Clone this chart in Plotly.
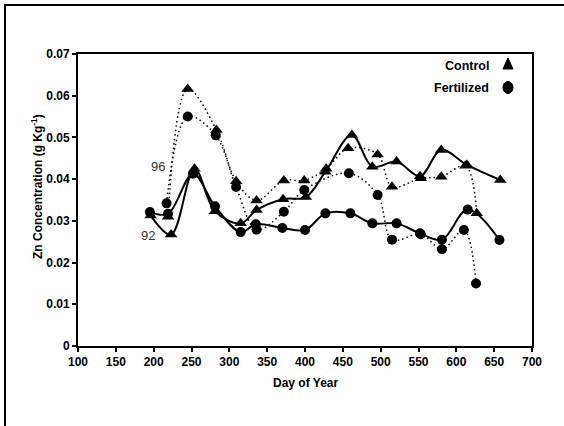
import plotly.graph_objects as go

# ---- data ----
c92_x = [196, 223, 254, 281, 315, 336, 371, 401, 427, 462, 489, 521, 552, 580, 614, 658]
c92_y = [0.0313, 0.0267, 0.0425, 0.0323, 0.0294, 0.0326, 0.0352, 0.0357, 0.0418, 0.0506,
         0.0430, 0.0442, 0.0407, 0.0470, 0.0434, 0.0398]

f92_x = [195, 219, 252, 281, 315, 335, 370, 400, 427, 460, 489, 521, 552, 581, 615, 657]
f92_y = [0.0321, 0.0317, 0.0413, 0.0335, 0.0273, 0.0292, 0.0283, 0.0278, 0.0318, 0.0318,
         0.0294, 0.0294, 0.0270, 0.0255, 0.0327, 0.0254]

c96_x = [219, 245, 283, 309, 336, 372, 399, 428, 457, 496, 515, 553, 580, 612, 627]
c96_y = [0.0310, 0.0616, 0.0518, 0.0395, 0.0349, 0.0397, 0.0397, 0.0425, 0.0474, 0.0459,
         0.0382, 0.0402, 0.0406, 0.0432, 0.0318]

f96_x = [217, 245, 282, 309, 336, 372, 399, 458, 496, 515, 553, 581, 610, 626]
f96_y = [0.0342, 0.0550, 0.0505, 0.0381, 0.0279, 0.0322, 0.0374, 0.0414, 0.0362, 0.0255,
         0.0268, 0.0232, 0.0278, 0.0150]

x_ticks = [100, 150, 200, 250, 300, 350, 400, 450, 500, 550, 600, 650, 700]
y_ticks = [0, 0.01, 0.02, 0.03, 0.04, 0.05, 0.06, 0.07]
y_tick_text = ["0", "0.01", "0.02", "0.03", "0.04", "0.05", "0.06", "0.07"]

FONT = "Liberation Sans, Arial, sans-serif"

fig = go.Figure()

def add(xs, ys, symbol, dash, width, size):
    fig.add_trace(go.Scatter(
        x=xs, y=ys, mode="lines+markers",
        line=dict(color="black", width=width, dash=dash, shape="spline", smoothing=1.0),
        marker=dict(symbol=symbol, color="black", size=size),
        showlegend=False, cliponaxis=False))

add(c96_x, c96_y, "triangle-up", "1.5px,3px", 1.5, 11)
add(f96_x, f96_y, "circle", "1.5px,3px", 1.5, 10)
add(c92_x, c92_y, "triangle-up", "solid", 2, 11)
add(f92_x, f92_y, "circle", "solid", 2, 10)

axis_common = dict(showline=True, linecolor="black", linewidth=2, mirror=True,
                   showgrid=False, zeroline=False, ticks="outside", ticklen=4,
                   tickwidth=2, tickcolor="black",
                   tickfont=dict(family=FONT, size=12, color="black", weight="bold"))

fig.update_xaxes(range=[100, 700], tickvals=x_ticks, **axis_common)
fig.update_yaxes(range=[0, 0.07], tickvals=y_ticks, ticktext=y_tick_text, **axis_common)

annotations = [
    dict(text="Day of Year", xref="paper", yref="paper", x=0.5, y=-0.127,
         showarrow=False, xanchor="center", yanchor="middle",
         font=dict(family=FONT, size=12, color="black", weight="bold")),
    dict(text="Zn Concentration (g Kg<sup>-1</sup>)", xref="paper", yref="paper",
         x=-0.090, y=0.545, textangle=-90, showarrow=False,
         xanchor="center", yanchor="middle",
         font=dict(family=FONT, size=12, color="black", weight="bold")),
    dict(text="Control", xref="paper", yref="paper", x=0.910, y=0.959,
         showarrow=False, xanchor="right", yanchor="middle",
         font=dict(family=FONT, size=12.5, color="black", weight="bold")),
    dict(text="Fertilized", xref="paper", yref="paper", x=0.910, y=0.885,
         showarrow=False, xanchor="right", yanchor="middle",
         font=dict(family=FONT, size=12.5, color="black", weight="bold")),
    dict(text="96", xref="x", yref="y", x=206, y=0.0431, showarrow=False,
         xanchor="center", yanchor="middle",
         font=dict(family=FONT, size=13, color="#333333")),
    dict(text="92", xref="x", yref="y", x=193, y=0.0264, showarrow=False,
         xanchor="center", yanchor="middle",
         font=dict(family=FONT, size=13, color="#333333")),
]

shapes = [
    # outer frame (left and top edges visible in the reference)
    dict(type="rect", xref="paper", yref="paper", x0=-0.1608, x1=1.2, y0=-0.45, y1=1.1678,
         line=dict(color="black", width=2), fillcolor="rgba(0,0,0,0)", layer="above"),
    # legend symbols
    dict(type="path", xref="paper", yref="paper", xsizemode="pixel", ysizemode="pixel",
         xanchor=0.9471, yanchor=0.9658, path="M-5,-5 L5,-5 L0,6 Z",
         fillcolor="black", line=dict(color="black", width=1)),
    dict(type="circle", xref="paper", yref="paper", xsizemode="pixel", ysizemode="pixel",
         xanchor=0.9471, yanchor=0.8853, x0=-5, x1=5, y0=-6, y1=6,
         fillcolor="black", line=dict(color="black", width=1)),
]

fig.update_layout(
    width=564, height=426,
    margin=dict(l=78, r=32, t=54, b=80, pad=0),
    paper_bgcolor="white", plot_bgcolor="white",
    annotations=annotations, shapes=shapes,
    showlegend=False,
)

fig.write_html("out.html")
